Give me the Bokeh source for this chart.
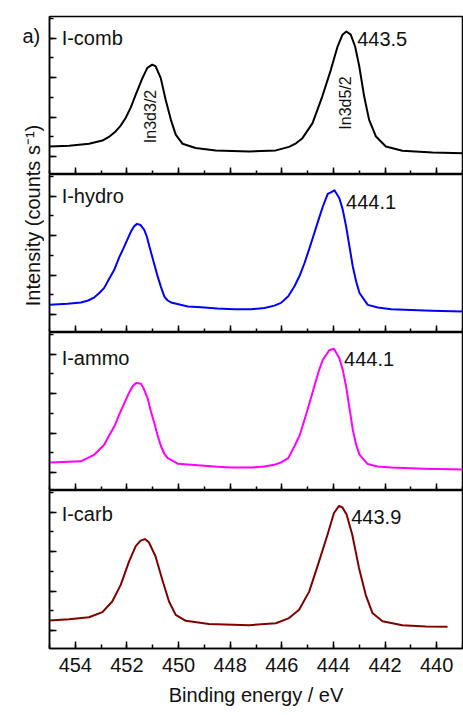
import math
from bokeh.plotting import figure
from bokeh.layouts import row, column
from bokeh.models import Range1d, SingleIntervalTicker, Label, CustomJSTickFormatter
from bokeh.embed import file_html
from bokeh.resources import INLINE

# ---------------- data (binding energy eV, intensity arb. units) ----------------
comb_E = [455.0, 454.24, 453.47, 452.95, 452.7, 452.44, 452.25, 452.05, 451.85, 451.66, 451.4,
          451.21, 451.02, 450.89, 450.69, 450.5, 450.3, 450.11, 449.85, 449.34, 448.56, 447.27,
          446.23, 445.72, 445.45, 445.2, 444.81, 444.43, 444.1, 443.84, 443.65, 443.5, 443.33,
          443.16, 443.0, 442.81, 442.62, 442.36, 441.97, 441.33, 440.16, 438.94]
comb_I = [0.26, 0.28, 0.33, 0.41, 0.50, 0.64, 0.78, 0.98, 1.25, 1.57, 1.99,
          2.25, 2.33, 2.29, 1.99, 1.44, 0.94, 0.56, 0.33, 0.22, 0.16, 0.13,
          0.16, 0.25, 0.34, 0.47, 0.85, 1.53, 2.20, 2.79, 3.09, 3.17, 3.09,
          2.79, 2.29, 1.53, 0.94, 0.52, 0.26, 0.15, 0.11, 0.09]

hydro_E = [455.0, 454.3, 453.78, 453.5, 453.26, 453.07, 452.88, 452.7, 452.49, 452.3, 452.1,
           451.95, 451.84, 451.72, 451.61, 451.47, 451.33, 451.23, 451.13, 450.97, 450.81,
           450.68, 450.55, 450.42, 450.29, 449.64, 449.13, 448.5, 447.84, 447.2, 446.67, 446.29,
           446.03, 445.75, 445.51, 445.3, 445.12, 444.93, 444.74, 444.57, 444.41, 444.22, 444.1,
           443.96, 443.77, 443.64, 443.51, 443.38, 443.25, 443.12, 442.99, 442.67, 442.28,
           441.76, 440.2, 439.0]
hydro_I = [0.25, 0.28, 0.31, 0.36, 0.44, 0.55, 0.68, 0.90, 1.14, 1.45, 1.73,
           1.95, 2.11, 2.24, 2.30, 2.27, 2.15, 1.98, 1.73, 1.35, 0.97,
           0.70, 0.46, 0.36, 0.31, 0.21, 0.19, 0.16, 0.14, 0.14, 0.17, 0.23,
           0.30, 0.47, 0.72, 1.00, 1.31, 1.68, 2.07, 2.42, 2.74, 3.06, 3.10,
           3.15, 2.95, 2.66, 2.24, 1.73, 1.22, 0.84, 0.55, 0.25, 0.185,
           0.14, 0.10, 0.08]

ammo_E = [455.0, 453.78, 453.26, 452.88, 452.7, 452.49, 452.3, 452.1, 451.92, 451.78, 451.65,
          451.45, 451.33, 451.2, 451.07, 450.94, 450.81, 450.68, 450.55, 450.42, 450.03, 449.13,
          448.5, 447.96, 447.2, 446.67, 446.3, 446.03, 445.75, 445.51, 445.3, 445.12, 444.93,
          444.74, 444.57, 444.41, 444.16, 443.98, 443.77, 443.64, 443.51, 443.38, 443.25, 443.12,
          442.99, 442.67, 442.3, 441.76, 440.5, 439.0]
ammo_I = [0.26, 0.29, 0.46, 0.71, 0.93, 1.17, 1.47, 1.76, 2.02, 2.19, 2.27,
          2.25, 2.10, 1.89, 1.55, 1.26, 0.94, 0.67, 0.48, 0.37, 0.23, 0.18,
          0.15, 0.13, 0.13, 0.16, 0.20, 0.26, 0.37, 0.67, 0.96, 1.34, 1.76,
          2.19, 2.57, 2.86, 3.10, 3.14, 2.90, 2.61, 2.19, 1.64, 1.09, 0.71,
          0.46, 0.22, 0.16, 0.13, 0.10, 0.08]

carb_E = [455.0, 454.24, 453.47, 452.95, 452.57, 452.24, 451.92, 451.66, 451.47, 451.3, 451.15,
          450.89, 450.63, 450.37, 450.11, 449.72, 448.82, 447.27, 446.23, 445.72, 445.33, 444.94,
          444.56, 444.23, 443.98, 443.78, 443.65, 443.49, 443.27, 443.01, 442.75, 442.49, 442.1,
          441.33, 440.42, 439.58]
carb_I = [0.26, 0.29, 0.34, 0.47, 0.74, 1.16, 1.75, 2.14, 2.28, 2.32, 2.24,
          1.88, 1.29, 0.74, 0.40, 0.25, 0.17, 0.14, 0.19, 0.32, 0.53, 0.99,
          1.75, 2.43, 2.98, 3.16, 3.12, 2.94, 2.43, 1.59, 0.91, 0.45, 0.24,
          0.14, 0.11, 0.10]

sample_names = ["I-comb", "I-hydro", "I-ammo", "I-carb"]
peak_labels = ["443.5", "444.1", "444.1", "443.9"]
line_colors = ["#000000", "#0000FF", "#FF00FF", "#800000"]
x_axis_title = "Binding energy / eV"
y_axis_title = "Intensity (counts s\u207B\u00B9)"

series = [(comb_E, comb_I), (hydro_E, hydro_I), (ammo_E, ammo_I), (carb_E, carb_I)]

# ---------------- layout ----------------
W, H = 463, 715
STRIP = 44
FONT = "Liberation Sans"
x_range = Range1d(455, 439)

panel_heights = [174, 158, 158, 225]
border_top = [16, 0, 0, 0]
border_bottom = [0, 0, 0, 67]
name_y = [3.0, 3.0, 2.9, 2.95]
peak_lab_pos = [(443.08, 2.98), (443.51, 2.86), (443.59, 2.89), (443.31, 2.89)]

blank = CustomJSTickFormatter(code="return ''")

panels = []
for i in range(4):
    E, I = series[i]
    p = figure(width=W - STRIP, height=panel_heights[i], x_range=x_range,
               y_range=Range1d(-0.45, 3.55), output_backend="svg", toolbar_location=None,
               min_border_left=5, min_border_right=1, min_border_top=border_top[i],
               min_border_bottom=border_bottom[i])
    p.xgrid.visible = False
    p.ygrid.visible = False
    p.outline_line_color = "black"
    p.outline_line_width = 1.5
    p.outline_line_alpha = 1.0

    p.line(E, I, line_color=line_colors[i], line_width=2, line_join="round")

    yax = p.yaxis[0]
    yax.ticker = SingleIntervalTicker(interval=1, num_minor_ticks=2)
    yax.formatter = blank
    yax.major_label_text_font_size = "0px"
    yax.major_label_standoff = 0
    yax.major_tick_in = 7
    yax.major_tick_out = 0
    yax.minor_tick_in = 4
    yax.minor_tick_out = 0
    yax.axis_line_width = 1.5
    yax.major_tick_line_width = 1.5
    yax.minor_tick_line_width = 1.5

    xax = p.xaxis[0]
    xax.ticker = SingleIntervalTicker(interval=2, num_minor_ticks=2)
    xax.major_tick_in = 7
    xax.major_tick_out = 0
    xax.minor_tick_in = 4
    xax.minor_tick_out = 0
    xax.axis_line_width = 1.5
    xax.major_tick_line_width = 1.5
    xax.minor_tick_line_width = 1.5
    if i < 3:
        xax.formatter = blank
        xax.major_label_text_font_size = "0px"
        xax.major_label_standoff = 0
    else:
        xax.major_label_text_font_size = "20px"
        xax.major_label_text_font = FONT
        xax.major_label_text_color = "#111111"
        xax.major_label_standoff = 9
        xax.axis_label = x_axis_title
        xax.axis_label_text_font = FONT
        xax.axis_label_text_font_size = "20px"
        xax.axis_label_text_font_style = "normal"
        xax.axis_label_text_color = "#111111"
        xax.axis_label_standoff = 9

    p.add_layout(Label(x=454.53, y=name_y[i], text=sample_names[i], text_font=FONT,
                       text_font_size="20px", text_color="#111111",
                       text_align="left", text_baseline="alphabetic"))
    px, py = peak_lab_pos[i]
    p.add_layout(Label(x=px, y=py, text=peak_labels[i], text_font=FONT,
                       text_font_size="20px", text_color="#111111",
                       text_align="left", text_baseline="alphabetic"))
    if i == 0:
        p.add_layout(Label(x=451.1, y=1.02, text="In3d3/2", angle=math.pi / 2,
                           text_font=FONT, text_font_size="16px", text_color="#111111",
                           text_align="center", text_baseline="middle"))
        p.add_layout(Label(x=443.55, y=1.36, text="In3d5/2", angle=math.pi / 2,
                           text_font=FONT, text_font_size="16px", text_color="#111111",
                           text_align="center", text_baseline="middle"))
    panels.append(p)

strip = figure(width=STRIP, height=H, x_range=Range1d(0, STRIP), y_range=Range1d(0, H),
               output_backend="svg", toolbar_location=None, min_border=0,
               x_axis_location=None, y_axis_location=None)
strip.xgrid.visible = False
strip.ygrid.visible = False
strip.outline_line_color = None
strip.add_layout(Label(x=32, y=H - 215, text=y_axis_title, angle=math.pi / 2, text_font=FONT,
                       text_font_size="20px", text_color="#111111",
                       text_align="center", text_baseline="alphabetic"))
strip.add_layout(Label(x=22, y=H - 35, text="a)", text_font=FONT, text_font_size="20px",
                       text_color="#111111", text_align="left", text_baseline="alphabetic"))

layout = row(strip, column(*panels, spacing=0), spacing=0)

open("out.html", "w").write(file_html(layout, INLINE))
